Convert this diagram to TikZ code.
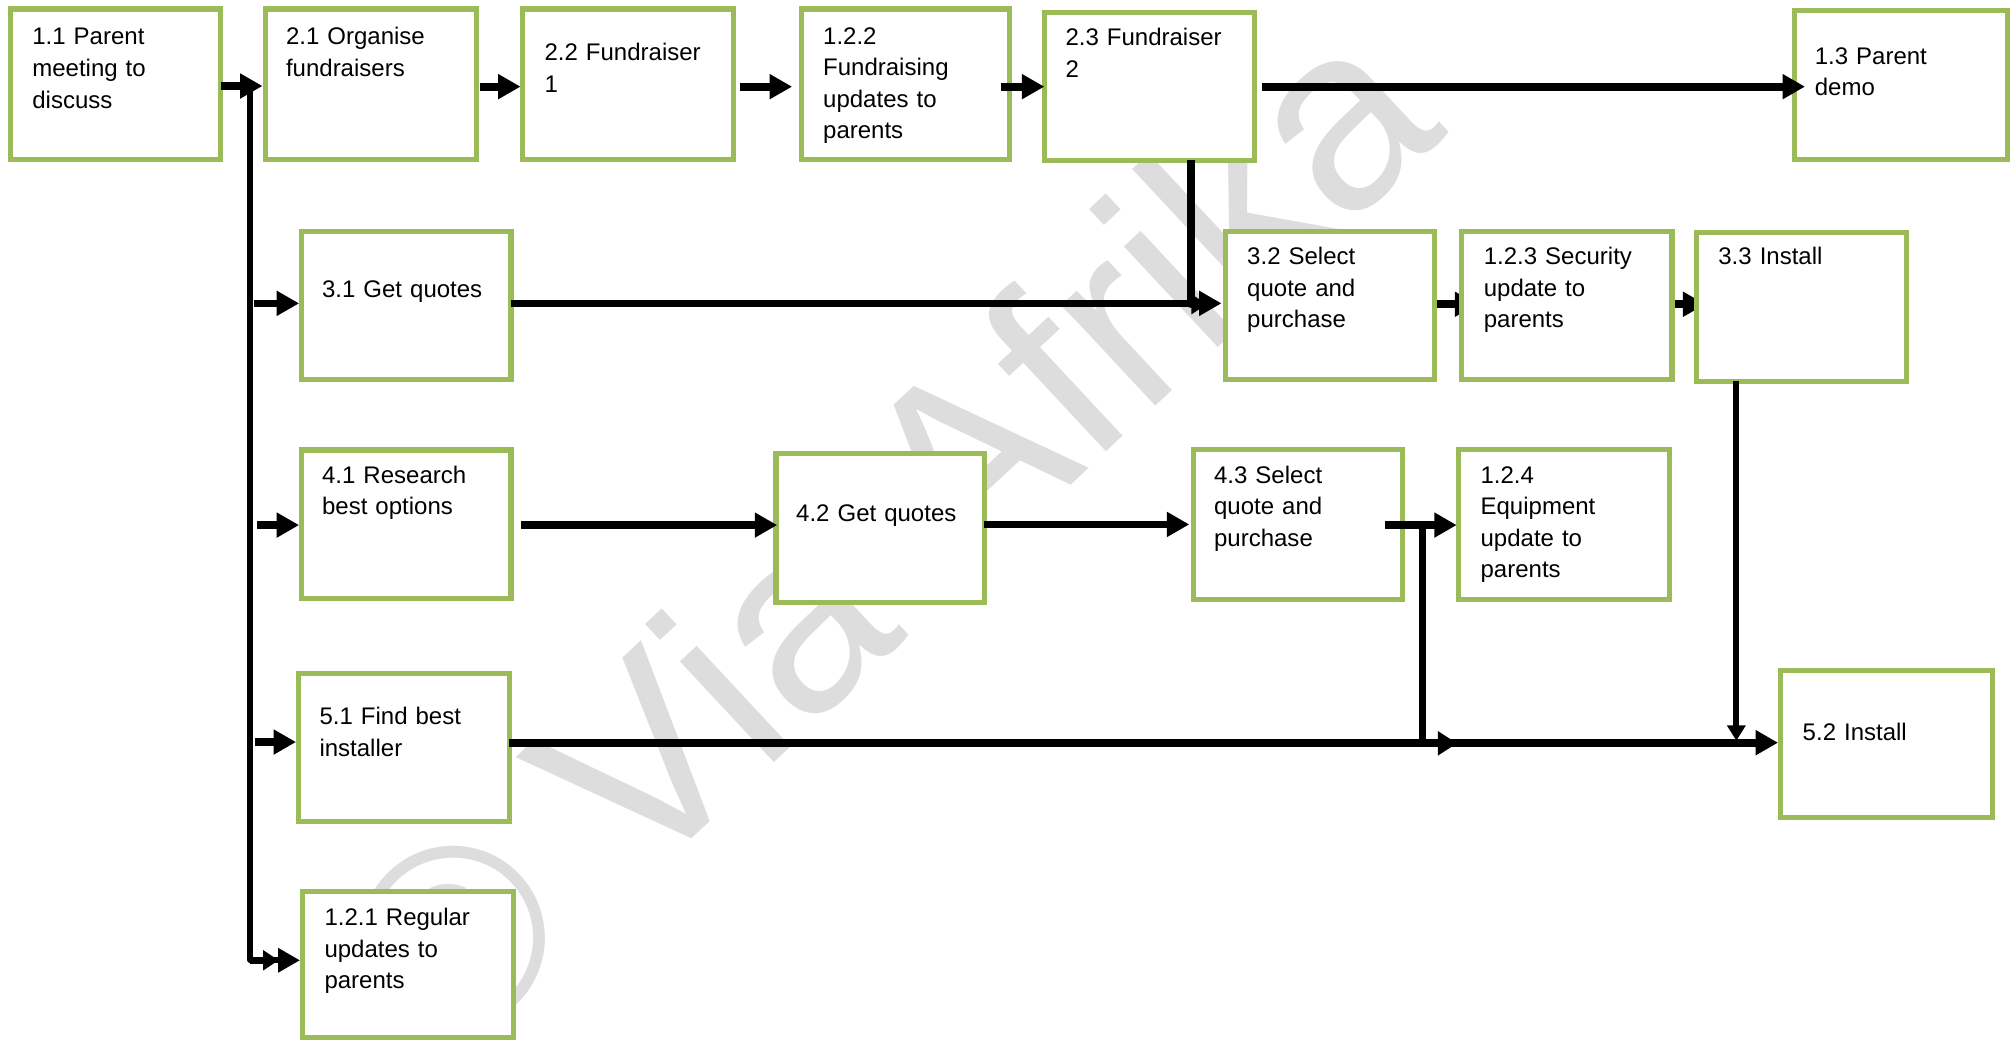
\documentclass[tikz,border=0pt]{standalone}
\usepackage{fontspec}
\setmainfont{Liberation Sans}
\usetikzlibrary{arrows.meta,calc}

\definecolor{boxgreen}{RGB}{155,187,89}
\definecolor{markgray}{RGB}{221,221,221}

\pgfdeclarelayer{mark}
\pgfdeclarelayer{under}
\pgfdeclarelayer{over}
\pgfsetlayers{mark,under,main,over}

% task box: name, left, top, right, bottom (border centre lines)
\newcommand\taskbox[5]{%
  \node[taskbox, minimum width={#4-#2}, minimum height={#5-#3}] (#1) at (#2,#3) {};}
% box caption: name, x, first baseline, lines
\newcommand\tasktext[4]{%
  \node[tasktext] (#1) at (#2,#3) {#4};}

\tikzset{
  taskbox/.style={rectangle, draw=boxgreen, line width=4pt, fill=white,
    inner sep=0pt, outer sep=0pt, anchor=north west},
  tasktext/.style={anchor=base west, inner sep=0pt, text width=160pt,
    align=left, font=\fontsize{18.7pt}{24.6pt}\selectfont},
  flow/.style={line width=6pt, -{Triangle[length=17.5pt,width=18.5pt]}},
  smallflow/.style={line width=5pt, -{Triangle[length=12pt,width=15pt]}},
  downflow/.style={line width=4.7pt, -{Triangle[length=12pt,width=14pt]}},
  bus/.style={line width=4.6pt, line join=round},
}

\begin{document}
\begin{tikzpicture}[x=1pt,y=-1pt]
\useasboundingbox (0,0) rectangle (1568,810);

\begin{pgfonlayer}{mark}
  \fill[white] (0,0) rectangle (1568,810);
  \node[text=markgray, font=\fontsize{203pt}{203pt}\selectfont, rotate=43,
    inner sep=0pt] (wm) at (688,415) {© Via Afrika};
\end{pgfonlayer}

% ---- boxes ----
\taskbox{b11}{8}{7}{172}{124}
\taskbox{b21}{206.5}{7}{371}{124}
\taskbox{b22}{407}{7}{571.5}{124}
\taskbox{b122}{624}{7}{786.5}{124}
\taskbox{b23}{813.5}{9.5}{977}{125}
\taskbox{b13}{1398}{8}{1563.5}{124}

\taskbox{b31}{235}{180}{398}{295.5}
\taskbox{b32}{954.5}{180}{1117.5}{295.3}
\taskbox{b123}{1138.7}{180}{1302.4}{295.3}
\taskbox{b33}{1321.4}{181.2}{1484.7}{297}

\taskbox{b41}{235}{350.5}{398}{466}
\taskbox{b42}{604.4}{353}{766.8}{469.3}
\taskbox{b43}{929.4}{350}{1092.7}{466.7}
\taskbox{b124}{1136.4}{350}{1300.3}{466.7}

\taskbox{b51}{232.6}{524.4}{396.6}{639.8}
\taskbox{b52}{1387}{522.6}{1552}{637}

\taskbox{b121}{235.7}{694.7}{400}{808.5}

% ---- captions ----
\tasktext{t11}{25}{35}{1.1 Parent\\meeting to\\discuss}
\tasktext{t21}{222.6}{35}{2.1 Organise\\fundraisers}
\tasktext{t22}{424}{47.5}{2.2 Fundraiser\\1}
\tasktext{t122}{641}{34.3}{1.2.2\\Fundraising\\updates to\\parents}
\tasktext{t23}{829.8}{35.5}{2.3 Fundraiser\\2}
\tasktext{t13}{1413.4}{50}{1.3 Parent\\demo}

\tasktext{t31}{250.7}{232}{3.1 Get quotes}
\tasktext{t32}{971.3}{206}{3.2 Select\\quote and\\purchase}
\tasktext{t123}{1155.6}{206}{1.2.3 Security\\update to\\parents}
\tasktext{t33}{1338.3}{206}{3.3 Install}

\tasktext{t41}{250.7}{376.5}{4.1 Research\\best options}
\tasktext{t42}{620}{406.4}{4.2 Get quotes}
\tasktext{t43}{945.5}{376.5}{4.3 Select\\quote and\\purchase}
\tasktext{t124}{1153.1}{376.3}{1.2.4\\Equipment\\update to\\parents}

\tasktext{t51}{248.7}{564.7}{5.1 Find best\\installer}
\tasktext{t52}{1404}{576.5}{5.2 Install}

\tasktext{t121}{252.6}{721}{1.2.1 Regular\\updates to\\parents}

% ---- junction points ----
\coordinate (bustop) at (195,65);
\coordinate (busend) at (195,748);
\coordinate (j121) at (217,748);
\coordinate (j32) at (940,237);
\coordinate (split) at (1108,579);
\coordinate (j52a) at (1135,579);
\coordinate (j52b) at (1352.5,577);

% ---- connectors hidden under the boxes ----
\begin{pgfonlayer}{under}
  \draw[flow, shorten <=2pt, shorten >=-12pt] (b32.east |- 0,237) -- (b123.west |- 0,237);
  \draw[flow, shorten <=2pt, shorten >=-7pt] (b123.east |- 0,237) -- (b33.west |- 0,237);
\end{pgfonlayer}

% ---- connectors ----
\begin{pgfonlayer}{over}
  % top row
  \draw[flow, shorten >=2pt] (b11.east |- 0,67) -- (b21.west |- 0,67);
  \draw[flow, shorten <=2.5pt, shorten >=1.5pt] (b21.east |- 0,67.5) -- (b22.west |- 0,67.5);
  \draw[flow, shorten <=5pt, shorten >=7pt] (b22.east |- 0,67.5) -- (b122.west |- 0,67.5);
  \draw[flow, shorten <=-6.5pt] (b122.east |- 0,67.5) -- (b23.west |- 0,67.5);
  \draw[flow, shorten <=6pt, shorten >=-8pt] (b23.east |- 0,67.5) -- (b13.west |- 0,67.5);

  % distribution line on the left
  \draw[bus, -{Triangle[length=17pt,width=18pt]}, shorten >=2pt]
    (bustop) |- (b121.west |- busend);
  \draw[smallflow] (busend) -- (j121);
  \draw[flow, shorten <=2.5pt, shorten >=2pt] (bustop |- 0,236.3) -- (b31.west |- 0,236.3);
  \draw[flow, shorten <=5pt, shorten >=2pt] (bustop |- 0,409) -- (b41.west |- 0,409);
  \draw[flow, shorten <=3.5pt, shorten >=2pt] (bustop |- 0,578) -- (b51.west |- 0,578);

  % security row
  \draw[flow, shorten >=3pt] (b31.east |- 0,236.3) -- (b32.west |- 0,236.3);
  \draw[smallflow, line width=6pt, line join=round] (b23.south -| 927.5,0) |- (j32);
  \draw[downflow] (b33.south -| j52b) -- (j52b);

  % equipment row
  \draw[flow, shorten <=8pt, shorten >=-1pt] (b41.east |- 0,409) -- (b42.west |- 0,409);
  \draw[flow, shorten >=3pt] (b42.east |- 0,408.5) -- (b43.west |- 0,408.5);
  \draw[flow, shorten <=-14pt, shorten >=1.7pt] (b43.east |- 0,409) -- (b124.west |- 0,409);
  \draw[line width=5.5pt, shorten <=-14pt, line join=round, -{Triangle[length=15pt,width=18pt]}]
    (b43.east |- 0,409) -| (split) -- (j52a);

  % installer row
  \draw[flow, shorten >=2pt] (b51.east |- 0,578.5) -- (b52.west |- 0,578.5);
\end{pgfonlayer}
\end{tikzpicture}
\end{document}
